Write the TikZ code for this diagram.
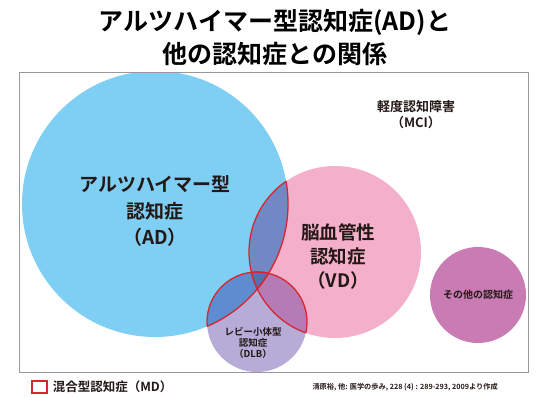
\documentclass[tikz,border=0pt]{standalone}
\usepackage{fontspec}
\setmainfont{Noto Sans CJK JP}[BoldFont={Noto Sans CJK JP Bold}]
\usetikzlibrary{positioning}
\definecolor{adblue}{HTML}{7FCEF3}
\definecolor{vdpink}{HTML}{F4AFCB}
\definecolor{dlbpurple}{HTML}{B7ABD8}
\definecolor{advd}{HTML}{7088C4}
\definecolor{addlb}{HTML}{5D8DD0}
\definecolor{vddlb}{HTML}{B57BB5}
\definecolor{adall}{HTML}{5B6FB0}
\definecolor{otherpink}{HTML}{C97BB4}
\definecolor{mdred}{HTML}{D7262F}
\definecolor{ink}{HTML}{231815}
\tikzset{
  lbl/.style={font=\bfseries, text=ink, align=center, inner sep=0pt},
  mdline/.style={draw=mdred, line width=1.3pt}
}

\begin{document}
\begin{tikzpicture}[x=1pt,y=-1pt]
\useasboundingbox (0,0) rectangle (550,398);
\node [lbl, text=black, font=\bfseries\fontsize{25}{33}\selectfont] (title) at (275,38)
  {アルツハイマー型認知症(AD)と\\他の認知症との関係};
\coordinate (adc) at (155,204);
\coordinate (vdc) at (335,252);
\coordinate (dlbc) at (257,322);
% circles inside the frame
\begin{scope}
\clip (19,73) rectangle (528,373);
\fill [adblue] (adc) circle [radius=133];
\fill [vdpink] (vdc) circle [radius=86];
\fill [dlbpurple] (dlbc) circle [radius=50];
\begin{scope}
  \clip (vdc) circle [radius=86];
  \fill [vddlb] (dlbc) circle [radius=50];
\end{scope}
\begin{scope}
  \clip (adc) circle [radius=133];
  \fill [advd] (vdc) circle [radius=86];
  \fill [addlb] (dlbc) circle [radius=50];
  \clip (vdc) circle [radius=86];
  \fill [adall] (dlbc) circle [radius=50];
\end{scope}
% mixed type outlines
\begin{scope}
  \clip (adc) circle [radius=133];
  \draw [mdline] (vdc) circle [radius=86];
  \draw [mdline] (dlbc) circle [radius=50];
\end{scope}
\begin{scope}
  \clip (vdc) circle [radius=86];
  \draw [mdline] (adc) circle [radius=133];
  \draw [mdline] (dlbc) circle [radius=50];
\end{scope}
\begin{scope}
  \clip (dlbc) circle [radius=50];
  \draw [mdline] (adc) circle [radius=133];
  \draw [mdline] (vdc) circle [radius=86];
\end{scope}
\end{scope}
\fill [otherpink] (478,295) circle [radius=48];
\draw [gray!80, line width=1pt] (19,73) rectangle (528,373);
% labels
\node [lbl, font=\bfseries\fontsize{19}{26.5}\selectfont] (ad) at (155,211)
  {アルツハイマー型\\認知症\\（AD）};
\node [lbl, font=\bfseries\fontsize{18.5}{24}\selectfont] (vd) at (338,256)
  {脳血管性\\認知症\\（VD）};
\node [lbl, font=\bfseries\fontsize{9.5}{11}\selectfont] (dlb) at (253,343)
  {レビー小体型\\認知症\\（DLB）};
\node [lbl, font=\bfseries\fontsize{13}{16}\selectfont] (mci) at (416,115)
  {軽度認知障害\\（MCI）};
\node [lbl, font=\bfseries\fontsize{10}{12}\selectfont] (other) at (478,295)
  {その他の認知症};
% legend and source
\node [mdline, line width=1.2pt, minimum width=15pt, minimum height=12pt, inner sep=0pt] (mdbox) at (39.5,387) {};
\node [lbl, font=\bfseries\fontsize{12.5}{14}\selectfont, right=5pt of mdbox] (md) {混合型認知症（MD）};
\node [lbl, font=\bfseries\fontsize{7.2}{8}\selectfont, anchor=east] (src) at (498,387)
  {清原裕, 他: 医学の歩み, 228 (4) : 289-293, 2009より作成};
\end{tikzpicture}
\end{document}
